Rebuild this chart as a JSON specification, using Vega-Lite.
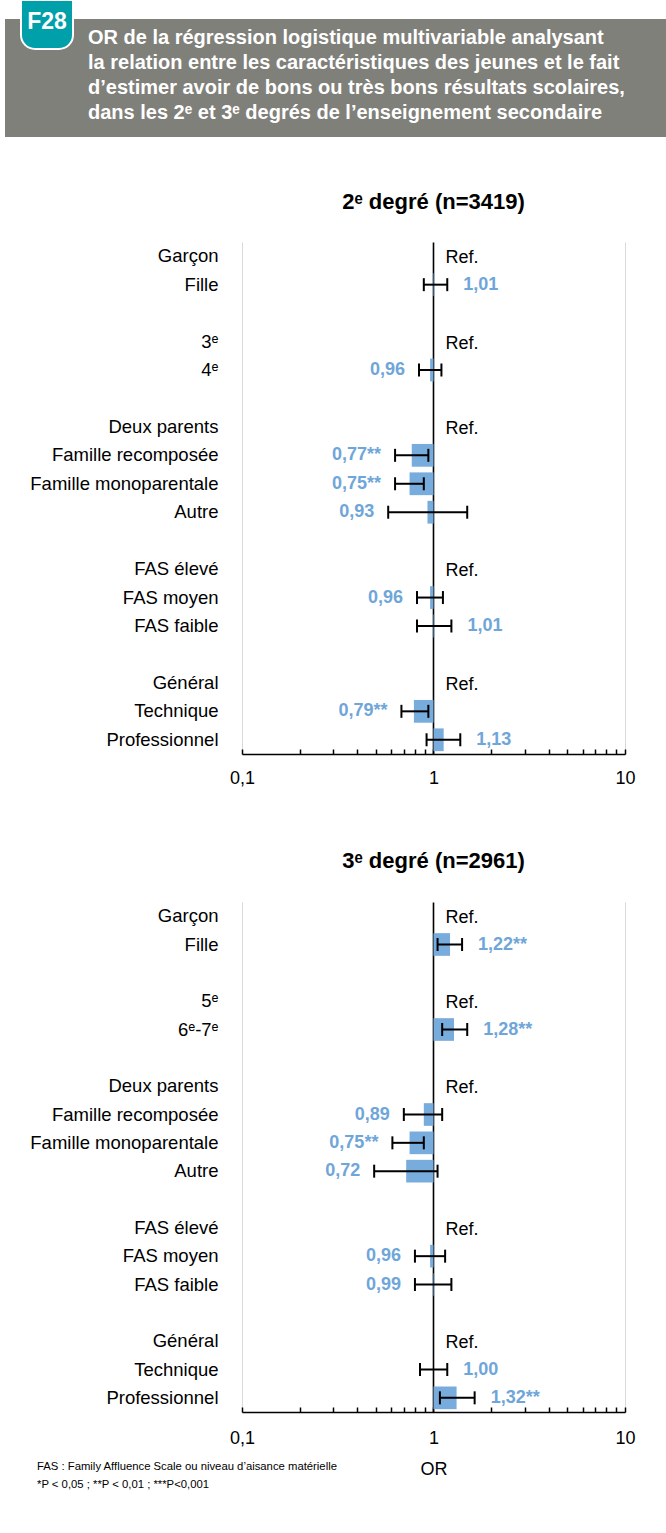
{
  "$schema": "https://vega.github.io/schema/vega-lite/v6.json",
  "background": "white",
  "padding": {"left": 5, "top": -4, "right": 0, "bottom": 0},
  "config": {
    "font": "Liberation Sans",
    "view": {"stroke": null}
  },
  "datasets": {
    "header": [{"badge": "F28"}],
    "or": [
      {"degre": "2", "cat": "Garçon", "or": 1, "lo": null, "hi": null, "lbl": "Ref."},
      {"degre": "2", "cat": "Fille", "or": 1.01, "lo": 0.89, "hi": 1.18, "lbl": "1,01"},
      {"degre": "2", "cat": "3ᵉ", "or": 1, "lo": null, "hi": null, "lbl": "Ref."},
      {"degre": "2", "cat": "4ᵉ", "or": 0.96, "lo": 0.84, "hi": 1.10, "lbl": "0,96"},
      {"degre": "2", "cat": "Deux parents", "or": 1, "lo": null, "hi": null, "lbl": "Ref."},
      {"degre": "2", "cat": "Famille recomposée", "or": 0.77, "lo": 0.63, "hi": 0.94, "lbl": "0,77**"},
      {"degre": "2", "cat": "Famille monoparentale", "or": 0.75, "lo": 0.63, "hi": 0.89, "lbl": "0,75**"},
      {"degre": "2", "cat": "Autre", "or": 0.93, "lo": 0.58, "hi": 1.50, "lbl": "0,93"},
      {"degre": "2", "cat": "FAS élevé", "or": 1, "lo": null, "hi": null, "lbl": "Ref."},
      {"degre": "2", "cat": "FAS moyen", "or": 0.96, "lo": 0.82, "hi": 1.12, "lbl": "0,96"},
      {"degre": "2", "cat": "FAS faible", "or": 1.01, "lo": 0.82, "hi": 1.24, "lbl": "1,01"},
      {"degre": "2", "cat": "Général", "or": 1, "lo": null, "hi": null, "lbl": "Ref."},
      {"degre": "2", "cat": "Technique", "or": 0.79, "lo": 0.68, "hi": 0.94, "lbl": "0,79**"},
      {"degre": "2", "cat": "Professionnel", "or": 1.13, "lo": 0.92, "hi": 1.38, "lbl": "1,13"},
      {"degre": "3", "cat": "Garçon", "or": 1, "lo": null, "hi": null, "lbl": "Ref."},
      {"degre": "3", "cat": "Fille", "or": 1.22, "lo": 1.05, "hi": 1.41, "lbl": "1,22**"},
      {"degre": "3", "cat": "5ᵉ", "or": 1, "lo": null, "hi": null, "lbl": "Ref."},
      {"degre": "3", "cat": "6ᵉ-7ᵉ", "or": 1.28, "lo": 1.11, "hi": 1.50, "lbl": "1,28**"},
      {"degre": "3", "cat": "Deux parents", "or": 1, "lo": null, "hi": null, "lbl": "Ref."},
      {"degre": "3", "cat": "Famille recomposée", "or": 0.89, "lo": 0.70, "hi": 1.11, "lbl": "0,89"},
      {"degre": "3", "cat": "Famille monoparentale", "or": 0.75, "lo": 0.61, "hi": 0.89, "lbl": "0,75**"},
      {"degre": "3", "cat": "Autre", "or": 0.72, "lo": 0.49, "hi": 1.05, "lbl": "0,72"},
      {"degre": "3", "cat": "FAS élevé", "or": 1, "lo": null, "hi": null, "lbl": "Ref."},
      {"degre": "3", "cat": "FAS moyen", "or": 0.96, "lo": 0.80, "hi": 1.15, "lbl": "0,96"},
      {"degre": "3", "cat": "FAS faible", "or": 0.99, "lo": 0.80, "hi": 1.24, "lbl": "0,99"},
      {"degre": "3", "cat": "Général", "or": 1, "lo": null, "hi": null, "lbl": "Ref."},
      {"degre": "3", "cat": "Technique", "or": 1.00, "lo": 0.85, "hi": 1.18, "lbl": "1,00"},
      {"degre": "3", "cat": "Professionnel", "or": 1.32, "lo": 1.08, "hi": 1.64, "lbl": "1,32**"}
    ]
  },
  "title": {
    "text": ["FAS : Family Affluence Scale ou niveau d’aisance matérielle", "*P < 0,05 ; **P < 0,01 ; ***P<0,001"],
    "orient": "bottom", "anchor": "start", "frame": "bounds",
    "fontSize": 11.3, "fontWeight": "normal", "lineHeight": 18,
    "baseline": "alphabetic", "offset": -8, "dx": 32, "color": "#000000",
    "font": "Liberation Sans Narrow, Liberation Sans"
  },
  "spacing": 54,
  "vconcat": [
    {
      "data": {"name": "header"},
      "width": 661,
      "height": 118,
      "view": {"fill": "#80807a", "stroke": null},
      "title": {
        "text": [
          "OR de la régression logistique multivariable analysant",
          "la relation entre les caractéristiques des jeunes et le fait",
          "d’estimer avoir de bons ou très bons résultats scolaires,",
          "dans les 2ᵉ et 3ᵉ degrés de l’enseignement secondaire"
        ],
        "orient": "top", "anchor": "start", "frame": "group",
        "dx": 83, "offset": -142.5, "baseline": "alphabetic",
        "fontSize": 20, "fontWeight": "bold", "lineHeight": 25,
        "font": "Liberation Sans Narrow, Liberation Sans", "color": "#ffffff"
      },
      "layer": [
        {
          "mark": {
            "type": "point",
            "shape": "M-6.29,-1.56H-5.25V-0.86A0.28,0.28,0,0,1,-5.53,-0.58H-6.01A0.28,0.28,0,0,1,-6.29,-0.86Z",
            "size": 10000, "filled": true, "fill": "#00a0aa",
            "stroke": "#ffffff", "strokeWidth": 2, "opacity": 1
          },
          "encoding": {}
        },
        {
          "mark": {
            "type": "text", "dx": -288.5, "dy": -56.5, "align": "center", "baseline": "middle",
            "fontSize": 23, "fontWeight": "bold", "color": "#ffffff",
            "font": "Liberation Sans Narrow, Liberation Sans"
          },
          "encoding": {"text": {"field": "badge", "type": "nominal"}}
        }
      ]
    },
    {
      "spacing": 63,
      "vconcat": [
        {
          "spacing": 11,
          "hconcat": [
            {
              "data": {"name": "or"},
              "transform": [{"filter": "datum.degre == '2'"}],
              "width": 213,
              "height": 512,
              "mark": {"type": "tick", "opacity": 0},
              "encoding": {
                "y": {
                  "field": "cat", "type": "nominal",
                  "scale": {
                    "domain": ["Garçon", "Fille", " ", "3ᵉ", "4ᵉ", "  ", "Deux parents", "Famille recomposée", "Famille monoparentale", "Autre", "   ", "FAS élevé", "FAS moyen", "FAS faible", "    ", "Général", "Technique", "Professionnel"],
                    "paddingInner": 0.2, "paddingOuter": 0.1
                  },
                  "axis": {
                    "orient": "right", "domain": false, "ticks": false, "tickSize": 0,
                    "labelAlign": "right", "labelPadding": 0, "labelFontSize": 18.5, "labelColor": "#000000",
                    "minExtent": 0, "maxExtent": 0, "labelLimit": 300, "title": null, "grid": false
                  }
                }
              }
            },
            {
              "data": {"name": "or"},
              "transform": [{"filter": "datum.degre == '2'"}],
              "width": 383,
              "height": 512,
              "title": {
                "text": "2ᵉ degré (n=3419)", "fontSize": 22, "fontWeight": "bold",
                "anchor": "middle", "frame": "group", "offset": 11, "baseline": "alphabetic", "color": "#000000"
              },
              "encoding": {
                "y": {
                  "field": "cat", "type": "nominal",
                  "scale": {
                    "domain": ["Garçon", "Fille", " ", "3ᵉ", "4ᵉ", "  ", "Deux parents", "Famille recomposée", "Famille monoparentale", "Autre", "   ", "FAS élevé", "FAS moyen", "FAS faible", "    ", "Général", "Technique", "Professionnel"],
                    "paddingInner": 0.2, "paddingOuter": 0.1
                  },
                  "axis": null
                },
                "x": {
                  "field": "or", "type": "quantitative",
                  "scale": {"type": "log", "domain": [0.1, 10], "nice": false},
                  "axis": {
                    "title": null,
                    "values": [0.1, 0.2, 0.3, 0.4, 0.5, 0.6, 0.7, 0.8, 0.9, 1, 2, 3, 4, 5, 6, 7, 8, 9, 10],
                    "labelExpr": "datum.value == 0.1 ? '0,1' : datum.value == 1 ? '1' : datum.value == 10 ? '10' : ''",
                    "labelFlush": false, "labelOverlap": false,
                    "labelFontSize": 18, "labelColor": "#000000", "labelPadding": 20,
                    "tickSize": -5, "tickColor": "#000000", "tickWidth": 1.5,
                    "domainColor": "#000000", "domainWidth": 1.5,
                    "grid": true,
                    "gridColor": {"condition": {"test": "datum.value == 1", "value": "#000000"}, "value": "#d9d9d9"},
                    "gridOpacity": {"condition": {"test": "datum.value == 1 || datum.value == 0.1 || datum.value == 10", "value": 1}, "value": 0},
                    "gridWidth": {"condition": {"test": "datum.value == 1", "value": 1.6}, "value": 1}
                  }
                }
              },
              "layer": [
                {
                  "transform": [{"filter": "datum.lo != null"}],
                  "mark": {"type": "bar", "color": "#77acdc"},
                  "encoding": {"x2": {"datum": 1}}
                },
                {
                  "transform": [{"filter": "datum.lo != null"}],
                  "mark": {"type": "rule", "color": "#000000", "strokeWidth": 2},
                  "encoding": {"x": {"field": "lo", "type": "quantitative"}, "x2": {"field": "hi"}}
                },
                {
                  "transform": [{"filter": "datum.lo != null"}],
                  "mark": {"type": "tick", "color": "#000000", "thickness": 2, "size": 13, "opacity": 1},
                  "encoding": {"x": {"field": "lo", "type": "quantitative"}}
                },
                {
                  "transform": [{"filter": "datum.lo != null"}],
                  "mark": {"type": "tick", "color": "#000000", "thickness": 2, "size": 13, "opacity": 1},
                  "encoding": {"x": {"field": "hi", "type": "quantitative"}}
                },
                {
                  "transform": [{"filter": "datum.lo != null && datum.or < 1"}],
                  "mark": {"type": "text", "align": "right", "baseline": "middle", "dx": -14, "fontSize": 18, "fontWeight": "bold", "color": "#6fa6d9"},
                  "encoding": {"x": {"field": "lo", "type": "quantitative"}, "text": {"field": "lbl", "type": "nominal"}}
                },
                {
                  "transform": [{"filter": "datum.lo != null && datum.or >= 1"}],
                  "mark": {"type": "text", "align": "left", "baseline": "middle", "dx": 16, "fontSize": 18, "fontWeight": "bold", "color": "#6fa6d9"},
                  "encoding": {"x": {"field": "hi", "type": "quantitative"}, "text": {"field": "lbl", "type": "nominal"}}
                },
                {
                  "transform": [{"filter": "datum.lo == null"}],
                  "mark": {"type": "text", "align": "left", "baseline": "middle", "dx": 12, "dy": 2, "fontSize": 18, "color": "#000000"},
                  "encoding": {"text": {"field": "lbl", "type": "nominal"}}
                }
              ]
            }
          ]
        },
        {
          "spacing": 11,
          "hconcat": [
            {
              "data": {"name": "or"},
              "transform": [{"filter": "datum.degre == '3'"}],
              "width": 213,
              "height": 510,
              "mark": {"type": "tick", "opacity": 0},
              "encoding": {
                "y": {
                  "field": "cat", "type": "nominal",
                  "scale": {
                    "domain": ["Garçon", "Fille", " ", "5ᵉ", "6ᵉ-7ᵉ", "  ", "Deux parents", "Famille recomposée", "Famille monoparentale", "Autre", "   ", "FAS élevé", "FAS moyen", "FAS faible", "    ", "Général", "Technique", "Professionnel"],
                    "paddingInner": 0.2, "paddingOuter": 0.1
                  },
                  "axis": {
                    "orient": "right", "domain": false, "ticks": false, "tickSize": 0,
                    "labelAlign": "right", "labelPadding": 0, "labelFontSize": 18.5, "labelColor": "#000000",
                    "minExtent": 0, "maxExtent": 0, "labelLimit": 300, "title": null, "grid": false
                  }
                }
              }
            },
            {
              "data": {"name": "or"},
              "transform": [{"filter": "datum.degre == '3'"}],
              "width": 383,
              "height": 510,
              "title": {
                "text": "3ᵉ degré (n=2961)", "fontSize": 22, "fontWeight": "bold",
                "anchor": "middle", "frame": "group", "offset": 12, "baseline": "alphabetic", "color": "#000000"
              },
              "encoding": {
                "y": {
                  "field": "cat", "type": "nominal",
                  "scale": {
                    "domain": ["Garçon", "Fille", " ", "5ᵉ", "6ᵉ-7ᵉ", "  ", "Deux parents", "Famille recomposée", "Famille monoparentale", "Autre", "   ", "FAS élevé", "FAS moyen", "FAS faible", "    ", "Général", "Technique", "Professionnel"],
                    "paddingInner": 0.2, "paddingOuter": 0.1
                  },
                  "axis": null
                },
                "x": {
                  "field": "or", "type": "quantitative",
                  "scale": {"type": "log", "domain": [0.1, 10], "nice": false},
                  "axis": {
                    "title": "OR", "titleFontSize": 18, "titleFontWeight": "normal", "titleColor": "#000000", "titlePadding": 13,
                    "values": [0.1, 0.2, 0.3, 0.4, 0.5, 0.6, 0.7, 0.8, 0.9, 1, 2, 3, 4, 5, 6, 7, 8, 9, 10],
                    "labelExpr": "datum.value == 0.1 ? '0,1' : datum.value == 1 ? '1' : datum.value == 10 ? '10' : ''",
                    "labelFlush": false, "labelOverlap": false,
                    "labelFontSize": 18, "labelColor": "#000000", "labelPadding": 22,
                    "tickSize": -5, "tickColor": "#000000", "tickWidth": 1.5,
                    "domainColor": "#000000", "domainWidth": 1.5,
                    "grid": true,
                    "gridColor": {"condition": {"test": "datum.value == 1", "value": "#000000"}, "value": "#d9d9d9"},
                    "gridOpacity": {"condition": {"test": "datum.value == 1 || datum.value == 0.1 || datum.value == 10", "value": 1}, "value": 0},
                    "gridWidth": {"condition": {"test": "datum.value == 1", "value": 1.6}, "value": 1}
                  }
                }
              },
              "layer": [
                {
                  "transform": [{"filter": "datum.lo != null"}],
                  "mark": {"type": "bar", "color": "#77acdc"},
                  "encoding": {"x2": {"datum": 1}}
                },
                {
                  "transform": [{"filter": "datum.lo != null"}],
                  "mark": {"type": "rule", "color": "#000000", "strokeWidth": 2},
                  "encoding": {"x": {"field": "lo", "type": "quantitative"}, "x2": {"field": "hi"}}
                },
                {
                  "transform": [{"filter": "datum.lo != null"}],
                  "mark": {"type": "tick", "color": "#000000", "thickness": 2, "size": 13, "opacity": 1},
                  "encoding": {"x": {"field": "lo", "type": "quantitative"}}
                },
                {
                  "transform": [{"filter": "datum.lo != null"}],
                  "mark": {"type": "tick", "color": "#000000", "thickness": 2, "size": 13, "opacity": 1},
                  "encoding": {"x": {"field": "hi", "type": "quantitative"}}
                },
                {
                  "transform": [{"filter": "datum.lo != null && datum.or < 1"}],
                  "mark": {"type": "text", "align": "right", "baseline": "middle", "dx": -14, "fontSize": 18, "fontWeight": "bold", "color": "#6fa6d9"},
                  "encoding": {"x": {"field": "lo", "type": "quantitative"}, "text": {"field": "lbl", "type": "nominal"}}
                },
                {
                  "transform": [{"filter": "datum.lo != null && datum.or >= 1"}],
                  "mark": {"type": "text", "align": "left", "baseline": "middle", "dx": 16, "fontSize": 18, "fontWeight": "bold", "color": "#6fa6d9"},
                  "encoding": {"x": {"field": "hi", "type": "quantitative"}, "text": {"field": "lbl", "type": "nominal"}}
                },
                {
                  "transform": [{"filter": "datum.lo == null"}],
                  "mark": {"type": "text", "align": "left", "baseline": "middle", "dx": 12, "dy": 2, "fontSize": 18, "color": "#000000"},
                  "encoding": {"text": {"field": "lbl", "type": "nominal"}}
                }
              ]
            }
          ]
        }
      ]
    }
  ]
}
